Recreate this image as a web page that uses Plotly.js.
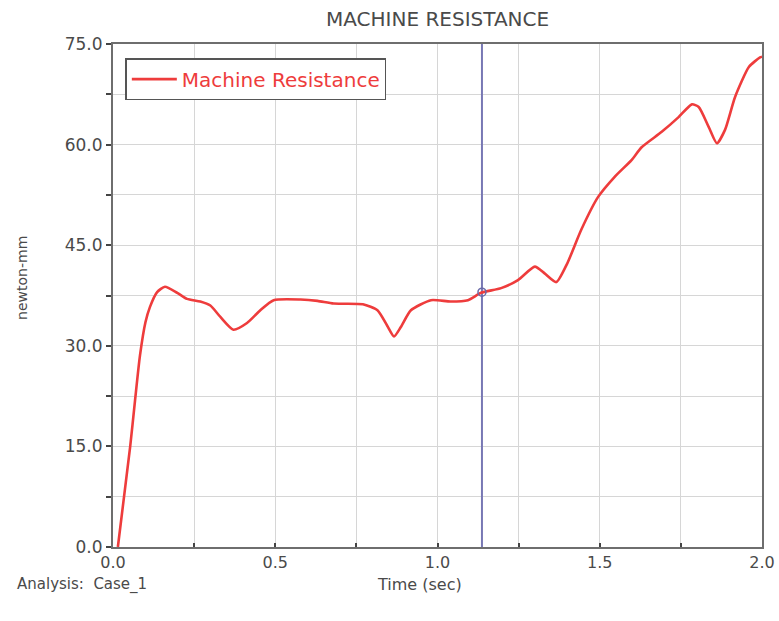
<!DOCTYPE html>
<html>
<head>
<meta charset="utf-8">
<script src="https://cdn.plot.ly/plotly-3.0.1.min.js"></script>
<style>html,body{margin:0;padding:0;background:#fff;}#chart{width:779px;height:621px;}</style>
</head>
<body>
<div id="chart"></div>
<script>
// Data
const timeSec = [0.015,0.053,0.068,0.083,0.100,0.114,0.136,0.160,0.198,0.228,0.269,0.300,0.331,0.371,0.413,0.454,0.495,0.578,0.630,0.680,0.770,0.815,0.845,0.866,0.887,0.918,0.980,1.040,1.094,1.134,1.196,1.248,1.300,1.330,1.366,1.400,1.443,1.495,1.546,1.598,1.629,1.691,1.743,1.784,1.805,1.836,1.861,1.886,1.917,1.960,1.994,2.000];
const resistance = [0.0,15.0,21.9,28.5,33.5,35.8,38.0,38.8,37.9,37.0,36.6,36.0,34.3,32.4,33.4,35.3,36.8,36.9,36.7,36.3,36.2,35.3,33.0,31.4,32.8,35.3,36.8,36.6,36.8,37.9,38.6,39.8,41.8,40.8,39.5,42.3,47.3,52.2,55.2,57.7,59.6,61.9,64.1,66.0,65.6,62.6,60.2,62.2,67.1,71.6,73.0,73.1];
const seriesName = "Machine Resistance";
const cursorT = [1.137, 1.137];
const cursorY = [0, 75];
const cursorPointT = [1.137];
const cursorPointY = [38.0];
const xTickVals = [0,0.25,0.5,0.75,1.0,1.25,1.5,1.75,2.0];
const xTickText = ["0.0","","0.5","","1.0","","1.5","","2.0"];
const yTickVals = [0,7.5,15,22.5,30,37.5,45,52.5,60,67.5,75];
const yTickText = ["0.0","","15.0","","30.0","","45.0","","60.0","","75.0"];
const chartTitle = "MACHINE RESISTANCE";
const xTitle = "Time (sec)";
const yTitle = "newton-mm";
const footLabel = "Analysis:  Case_1";

const FONT = "DejaVu Sans, Liberation Sans, Arial, sans-serif";
const TXT = "#4a4a4a";

const traces = [
  {x: cursorT, y: cursorY, mode: "lines", line: {color: "#7878b4", width: 2}, showlegend: false, hoverinfo: "skip"},
  {x: timeSec, y: resistance, mode: "lines", name: seriesName, line: {color: "#ee3c3c", width: 2.6, shape: "spline", smoothing: 0.6}},
  {x: cursorPointT, y: cursorPointY, mode: "markers", showlegend: false, marker: {symbol: "circle-open", size: 8, color: "#6a6aa8", line: {width: 1.5, color: "#6a6aa8"}}}
];

const layout = {
  width: 779, height: 621,
  margin: {l: 113, r: 17, t: 44, b: 74},
  paper_bgcolor: "#ffffff", plot_bgcolor: "#ffffff",
  font: {family: FONT, color: TXT},
  showlegend: true,
  legend: {x: 0.019, y: 0.972, xanchor: "left", yanchor: "top", bgcolor: "#ffffff", bordercolor: "#555555", borderwidth: 1.5,
           font: {family: FONT, size: 20, color: "#ee3c3c"}, itemwidth: 45, tracegroupgap: 0},
  xaxis: {range: [0, 2], tickmode: "array", tickvals: xTickVals, ticktext: xTickText,
          showgrid: true, gridcolor: "#d6d6d6", gridwidth: 1, zeroline: false,
          showline: true, linecolor: "#6e6e6e", linewidth: 2, mirror: true,
          ticks: "inside", ticklen: 4, tickcolor: "#444", tickwidth: 2,
          tickfont: {family: FONT, size: 16, color: TXT}},
  yaxis: {range: [0, 75], tickmode: "array", tickvals: yTickVals, ticktext: yTickText,
          showgrid: true, gridcolor: "#d6d6d6", gridwidth: 1, zeroline: false,
          showline: true, linecolor: "#6e6e6e", linewidth: 2, mirror: true,
          ticks: "outside", ticklen: 5, tickcolor: "#444", tickwidth: 2,
          tickfont: {family: FONT, size: 17, color: TXT}},
  annotations: [
    {text: chartTitle, xref: "paper", yref: "paper", x: 0.5, y: 1, yshift: 25, xanchor: "center", yanchor: "middle", showarrow: false, font: {family: FONT, size: 20, color: TXT}},
    {text: yTitle, xref: "paper", yref: "paper", x: 0, xshift: -91, y: 0.535, textangle: -90, xanchor: "center", yanchor: "middle", showarrow: false, font: {family: FONT, size: 14, color: TXT}},
    {text: xTitle, xref: "paper", yref: "paper", x: 0.473, y: 0, yshift: -37, xanchor: "center", yanchor: "middle", showarrow: false, font: {family: FONT, size: 16, color: TXT}},
    {text: footLabel, xref: "paper", yref: "paper", x: 0, xshift: -98, y: 0, yshift: -37, xanchor: "left", yanchor: "middle", showarrow: false, font: {family: FONT, size: 15, color: TXT}}
  ]
};

Plotly.newPlot("chart", traces, layout, {displayModeBar: false, staticPlot: true});
</script>
</body>
</html>
